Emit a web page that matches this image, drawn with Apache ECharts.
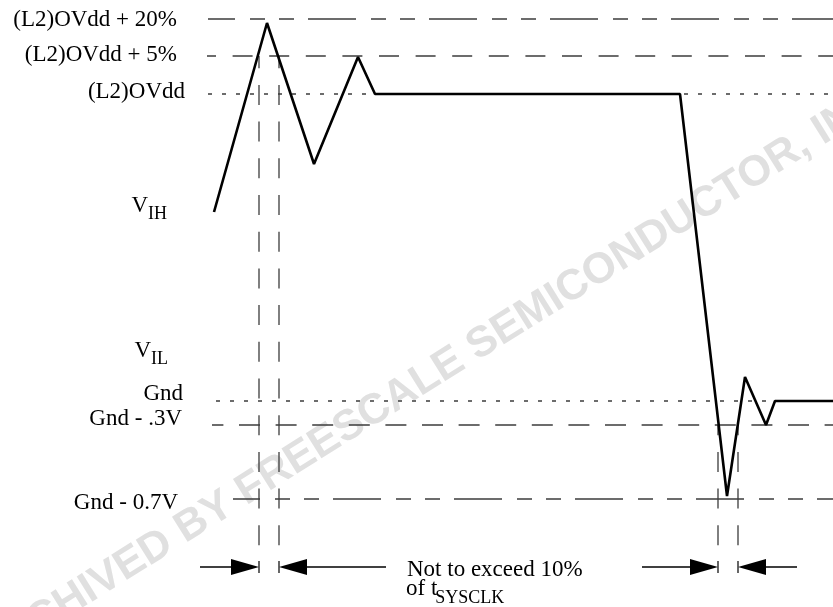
<!DOCTYPE html>
<html><head><meta charset="utf-8">
<script src="https://cdn.jsdelivr.net/npm/echarts@6/dist/echarts.min.js"></script>
<style>html,body{margin:0;padding:0;background:#fff}#c{width:833px;height:607px}</style>
</head><body><div id="c"></div>
<script>
// ---- Data (schematic units: x = time, y = signal level, Gnd = 0) ----
const signalT = [214, 267, 314, 358, 375, 680, 727, 745, 766, 775, 833];
const signalV = [189, 378, 237, 344, 307, 307, -95, 24, -24, 0, 0];

const refNames  = ['(L2)OVdd + 20%', '(L2)OVdd + 5%', '(L2)OVdd', 'Gnd', 'Gnd - .3V', 'Gnd - 0.7V'];
const refLevels = [382, 345, 307, 0, -24, -98];
const refStartT = [208, 207, 208, 216, 212, 233];
const refEndT   = 833;

const levelLabels    = ['(L2)OVdd + 20%', '(L2)OVdd + 5%', '(L2)OVdd', 'V', 'V', 'Gnd', 'Gnd - .3V', 'Gnd - 0.7V'];
const levelLabelSubs = ['', '', '', 'IH', 'IL', '', '', ''];
const levelLabelT    = [177, 177, 185, 167, 168, 183, 182, 178];
const levelLabelV    = [381, 346.5, 309, 195.5, 50.5, 7.5, -18, -101.5];

const markerT    = [259, 279, 718, 738];
const markerTopV = [345, 345, -24, -24];
const markerBottomV = -149;

const arrowTailT = [200, 386, 642, 797];
const arrowTipT  = [259, 279, 718, 738];
const arrowV = -166;

const noteLines = ['Not to exceed 10%', 'of t'];
const noteSubs  = ['', 'SYSCLK'];
const noteT     = [407, 406];
const noteV     = [-169.4, -188];

const watermark = 'ARCHIVED BY FREESCALE SEMICONDUCTOR, INC.';

// ---- Styles ----
const SERIF = '"Liberation Serif", "Times New Roman", serif';
const MAIN_FONT = '23px ' + SERIF;
const SUB_FONT = '18px ' + SERIF;
const SUB_DROP = 9;
const GRAY = '#3c3c3c';
const refDash = [[48,15,15,14,15,14],[20,16.6],[4,10],[4,10],[21,15.6],[48,15,15,14,15,14]];
const refDashOffset = [21, 11, 0, 0, 9.6, 21];
const markerDashOffset = [7.8, 7.8, 9.8, 9.8];

const mctx = document.createElement('canvas').getContext('2d');
function textW(s, font) { mctx.font = font; return mctx.measureText(s).width; }

const series = [];
refLevels.forEach((lv, i) => series.push({
  type: 'line', name: refNames[i], data: [[refStartT[i], lv], [refEndT, lv]],
  symbol: 'none', silent: true, z: 1,
  lineStyle: { color: GRAY, width: 1.3, type: refDash[i], dashOffset: refDashOffset[i] }
}));
markerT.forEach((t, i) => series.push({
  type: 'line', data: [[t, markerTopV[i]], [t, markerBottomV]],
  symbol: 'none', silent: true, z: 1,
  lineStyle: { color: GRAY, width: 1.3, type: [20, 16.7], dashOffset: markerDashOffset[i] }
}));
series.push({
  type: 'line', name: 'signal', data: signalT.map((t, i) => [t, signalV[i]]),
  symbol: 'none', silent: true, z: 5,
  lineStyle: { color: '#000', width: 2.6, join: 'bevel' }
});
series.push({
  type: 'custom', silent: true, z: 4,
  data: arrowTailT.map((t, i) => [t, arrowTipT[i], arrowV]),
  encode: { x: [0, 1], y: 2 },
  renderItem: function (params, api) {
    const a = api.coord([api.value(0), api.value(2)]);
    const b = api.coord([api.value(1), api.value(2)]);
    const d = b[0] > a[0] ? 1 : -1;
    return { type: 'group', children: [
      { type: 'line', shape: { x1: a[0], y1: a[1], x2: b[0] - d * 26, y2: b[1] }, style: { stroke: '#000', lineWidth: 1.3 } },
      { type: 'polygon', shape: { points: [[b[0], b[1]], [b[0] - d * 28, b[1] - 8], [b[0] - d * 28, b[1] + 8]] }, style: { fill: '#000' } },
      { type: 'line', shape: { x1: b[0], y1: b[1] - 6, x2: b[0], y2: b[1] + 6 }, style: { stroke: '#000', lineWidth: 1.2 } }
    ]};
  }
});
series.push({
  type: 'custom', silent: true, z: 6,
  data: levelLabelT.map((t, i) => [t, levelLabelV[i]]),
  renderItem: function (params, api) {
    const i = params.dataIndex;
    const p = api.coord([api.value(0), api.value(1)]);
    const sub = levelLabelSubs[i];
    const sw = sub ? textW(sub, SUB_FONT) : 0;
    const children = [{ type: 'text', x: p[0] - sw, y: p[1],
      style: { text: levelLabels[i], font: MAIN_FONT, fill: '#000', align: 'right', verticalAlign: 'middle' } }];
    if (sub) children.push({ type: 'text', x: p[0], y: p[1] + SUB_DROP,
      style: { text: sub, font: SUB_FONT, fill: '#000', align: 'right', verticalAlign: 'middle' } });
    return { type: 'group', children: children };
  }
});
series.push({
  type: 'custom', silent: true, z: 6,
  data: noteT.map((t, i) => [t, noteV[i]]),
  renderItem: function (params, api) {
    const i = params.dataIndex;
    const p = api.coord([api.value(0), api.value(1)]);
    const mw = textW(noteLines[i], MAIN_FONT);
    const children = [{ type: 'text', x: p[0], y: p[1],
      style: { text: noteLines[i], font: MAIN_FONT, fill: '#000', align: 'left', verticalAlign: 'middle' } }];
    if (noteSubs[i]) children.push({ type: 'text', x: p[0] + mw - 2, y: p[1] + SUB_DROP,
      style: { text: noteSubs[i], font: SUB_FONT, fill: '#000', align: 'left', verticalAlign: 'middle' } });
    return { type: 'group', children: children };
  }
});

const chart = echarts.init(document.getElementById('c'), null, { renderer: 'canvas' });
chart.setOption({
  animation: false,
  backgroundColor: '#fff',
  grid: { left: 0, right: 0, top: 0, bottom: 0 },
  xAxis: { type: 'value', min: 0, max: 833, show: false },
  yAxis: { type: 'value', min: -206, max: 401, show: false },
  graphic: [{
    type: 'text', x: 434, y: 374, rotation: 32 * Math.PI / 180, z: -10, silent: true,
    style: { text: watermark, font: 'bold 43px "Liberation Sans", Arial, sans-serif', fill: '#e0e0e0', align: 'center', verticalAlign: 'middle' }
  }],
  series: series
});
</script></body></html>
